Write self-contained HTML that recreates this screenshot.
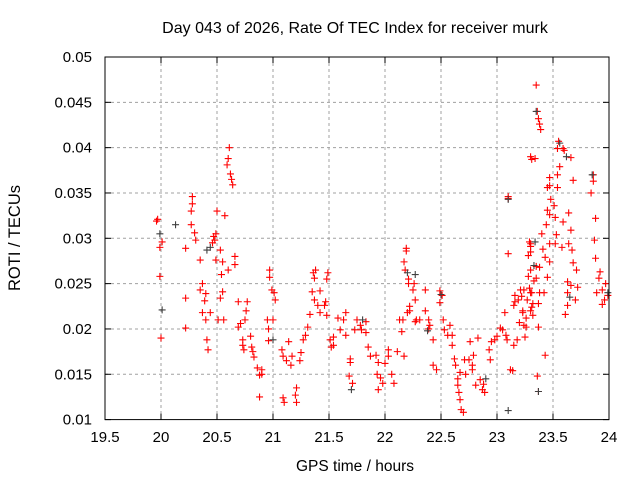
<!DOCTYPE html>
<html><head><meta charset="utf-8">
<style>
html,body{margin:0;padding:0;background:#fff;}
svg{display:block;font-family:"Liberation Sans",sans-serif;}
</style></head>
<body>
<svg id="chart" width="640" height="480" viewBox="0 0 640 480" xmlns="http://www.w3.org/2000/svg">
<rect x="0" y="0" width="640" height="480" fill="#fff"/>
<text x="355" y="33" text-anchor="middle" font-size="16" fill="#000">Day 043 of 2026, Rate Of TEC Index for receiver murk</text>
<text x="355" y="471" text-anchor="middle" font-size="15.5" fill="#000">GPS time / hours</text>
<text x="0" y="0" transform="translate(20,238) rotate(-90)" text-anchor="middle" font-size="16.5" fill="#000">ROTI / TECUs</text>
<g id="grid"></g>
<g id="ticks"></g>
<g id="series-red"></g>
<g id="series-dark"></g>
<rect x="105" y="57" width="504" height="362.6" fill="none" stroke="#000" stroke-width="1"/>
</svg>
<script>
const xTicks=[19.5,20,20.5,21,21.5,22,22.5,23,23.5,24];
const xTickLabels=["19.5","20","20.5","21","21.5","22","22.5","23","23.5","24"];
const yTicks=[0.01,0.015,0.02,0.025,0.03,0.035,0.04,0.045,0.05];
const yTickLabels=["0.01","0.015","0.02","0.025","0.03","0.035","0.04","0.045","0.05"];

const hours=[
19.96,19.97,19.99,20.01,19.99,20.0,20.22,20.22,20.22,20.28,20.28,20.27,20.27,20.3,20.31,
20.35,20.37,20.35,20.4,20.39,20.44,20.4,20.37,20.41,20.42,20.46,20.47,20.49,20.5,20.57,20.53,20.49,20.48,20.6,20.61,20.59,20.62,20.63,20.64,20.6,20.55,20.54,20.55,20.53,20.51,20.56,20.66,20.66,20.69,
20.71,20.75,20.73,20.73,20.74,20.8,20.81,20.82,20.83,20.86,20.88,20.88,20.9,20.9,20.69,20.76,20.77,20.97,20.97,20.99,21.01,21.02,20.96,20.95,21.0,20.96,
21.08,21.09,21.09,21.1,21.14,21.12,21.17,21.16,21.2,21.21,21.21,21.24,21.25,21.27,21.29,21.31,21.33,21.37,21.36,21.38,21.37,21.35,
21.42,21.42,21.4,21.46,21.47,21.48,21.51,21.52,21.54,21.54,21.49,21.48,21.58,21.6,21.63,21.65,21.65,21.69,21.69,21.68,21.71,21.73,21.75,21.78,21.79,21.83,21.83,21.85,21.87,21.92,21.94,21.93,21.96,21.94,21.98,22.0,22.03,22.03,
22.06,22.08,22.11,22.13,22.16,22.2,22.22,22.15,22.17,22.19,22.19,22.17,22.18,22.21,22.21,22.22,22.26,22.25,22.27,22.28,22.27,22.31,22.36,22.36,22.39,22.39,22.4,22.43,22.43,22.46,
22.49,22.51,22.49,22.53,22.52,22.56,22.58,22.6,22.6,22.62,22.63,22.65,22.65,22.66,22.67,22.68,22.7,22.67,22.71,22.72,22.75,22.76,22.78,22.78,22.79,22.83,22.81,22.85,22.87,22.89,22.88,22.93,22.94,22.95,
22.98,23.0,23.03,23.05,23.07,23.08,23.09,23.1,23.1,23.1,23.12,23.14,23.15,23.16,23.16,23.18,23.15,23.22,23.19,23.24,23.23,23.26,23.27,23.26,23.25,23.3,23.31,23.3,23.29,23.33,23.35,23.35,23.29,23.3,23.3,23.24,23.32,23.3,23.31,23.34,
23.35,23.36,23.37,23.38,23.39,23.55,23.54,23.59,23.6,23.66,23.56,23.54,23.47,23.47,23.45,23.54,23.68,23.86,23.86,23.84,23.88,23.87,23.88,23.92,23.91,23.97,23.94,23.89,23.99,23.96,23.94,
23.48,23.51,23.45,23.47,23.52,23.59,23.64,23.44,23.4,23.53,23.66,23.3,23.3,23.41,23.47,23.52,23.58,23.64,23.67,23.28,23.43,23.47,23.38,23.68,23.71,23.45,23.28,23.63,23.66,23.72,23.63,23.7,23.63,23.61,
23.21,23.31,23.38,23.42,23.32,23.37,23.23,23.2,23.37,23.43,23.36,23.37
];
const roti=[
.0319,.0321,.029,.0296,.0258,.0190,.0289,.0234,.0201,.0346,.0338,.033,.0315,.0306,.0298,
.0276,.025,.0243,.0239,.0231,.0218,.021,.0218,.0188,.0177,.0295,.0302,.0305,.033,.0325,.0287,.0276,.0298,.0388,.0400,.0381,.0371,.0365,.0359,.0265,.0274,.026,.0241,.0234,.021,.021,.028,.0271,.0202,
.0206,.021,.0188,.0182,.0177,.0192,.018,.0175,.0169,.0157,.0149,.0125,.015,.0155,.023,.022,.023,.0265,.0257,.0243,.024,.0232,.02,.021,.021,.0187,
.0177,.017,.0124,.0119,.0186,.0165,.017,.016,.0127,.0119,.0135,.0165,.0174,.0188,.0193,.0202,.0216,.0232,.0262,.0265,.0256,.0241,
.0242,.0218,.0226,.0226,.023,.0215,.0188,.018,.0182,.0191,.0262,.0255,.0212,.0199,.021,.0218,.0193,.0163,.0167,.0148,.014,.0199,.021,.0204,.0199,.0208,.0196,.018,.017,.0171,.0163,.015,.0146,.0133,.014,.0162,.017,.0177,
.015,.014,.0175,.021,.021,.0218,.022,.0197,.017,.0289,.0286,.0274,.0265,.025,.0255,.0225,.025,.0243,.0232,.021,.0208,.021,.0243,.022,.021,.02,.0204,.0188,.016,.0155,
.0242,.0237,.0229,.0199,.021,.0193,.0204,.0193,.0182,.0167,.016,.0145,.0138,.013,.0122,.0111,.0108,.0152,.0166,.015,.0166,.0186,.016,.0155,.0171,.019,.0138,.0144,.0133,.013,.0139,.0177,.0166,.0186,
.0188,.0192,.0201,.0199,.0218,.0193,.0188,.0344,.0346,.0283,.0155,.0154,.0226,.023,.0237,.0188,.0182,.0236,.0232,.0243,.0218,.0212,.0232,.0202,.0191,.022,.0224,.024,.0245,.0253,.0256,.0269,.0296,.0291,.0265,.0204,.0215,.039,.0387,.0388,
.0469,.044,.0432,.0426,.042,.0407,.0399,.0399,.0397,.0389,.0379,.037,.0367,.0358,.0356,.0356,.0364,.037,.0363,.035,.0322,.0298,.0278,.0263,.0256,.025,.0243,.024,.0237,.0232,.0227,
.0343,.0336,.0331,.0326,.0323,.0318,.0328,.0315,.0305,.0304,.0309,.0294,.0285,.0288,.0294,.0294,.029,.0294,.0287,.0281,.0279,.0274,.0268,.0273,.0265,.0257,.0258,.0252,.0248,.0246,.024,.0232,.0226,.0216,
.0243,.024,.024,.024,.0228,.0228,.022,.0207,.0202,.0171,.0148,.0131
];
const darkHours=[19.99,20.01,20.13,20.44,20.41,21.0,21.7,21.8,22.2,22.27,22.38,22.5,22.9,23.1,23.1,23.35,23.37,23.56,23.62,23.65,23.85,23.99,23.34,23.33];
const darkRoti=[.0305,.0221,.0315,.029,.0287,.0188,.0133,.021,.0262,.026,.0198,.0238,.0145,.011,.0343,.044,.0131,.0405,.039,.0235,.037,.024,.0296,.027];

const X0=105,X1=609,Y0=419.6,Y1=57;
function xs(h){return X0+(h-19.5)/(24-19.5)*(X1-X0);}
function ys(v){return Y0-(v-0.01)/(0.05-0.01)*(Y0-Y1);}
const NS="http://www.w3.org/2000/svg";
function mk(tag,attrs,parent){const e=document.createElementNS(NS,tag);for(const k in attrs)e.setAttribute(k,attrs[k]);parent.appendChild(e);return e;}
const grid=document.getElementById('grid'),ticks=document.getElementById('ticks');
xTicks.forEach((t,i)=>{
  const x=xs(t);
  if(i>0&&i<xTicks.length-1){
    const g=mk('line',{x1:x,y1:Y1,x2:x,y2:Y0,stroke:'#a0a0a0','stroke-dasharray':'3,3','stroke-width':1},grid);
    
    
  }
  const a=mk('line',{x1:x,y1:Y0,x2:x,y2:Y0-6,stroke:'#000'},ticks);
  
  
  const b=mk('line',{x1:x,y1:Y1,x2:x,y2:Y1+6,stroke:'#000'},ticks);
  
  
  const l=mk('text',{x:x,y:442,'text-anchor':'middle','font-size':15,fill:'#000'},ticks);
  l.textContent=xTickLabels[i];
  
  
});
yTicks.forEach((t,i)=>{
  const y=ys(t);
  if(i>0&&i<yTicks.length-1){
    const g=mk('line',{x1:X0,y1:y,x2:X1,y2:y,stroke:'#a0a0a0','stroke-dasharray':'3,3','stroke-width':1},grid);
    
    
  }
  const a=mk('line',{x1:X0,y1:y,x2:X0+6,y2:y,stroke:'#000'},ticks);
  
  
  const b=mk('line',{x1:X1,y1:y,x2:X1-6,y2:y,stroke:'#000'},ticks);
  
  
  const l=mk('text',{x:92,y:y+5,'text-anchor':'end','font-size':15,fill:'#000'},ticks);
  l.textContent=yTickLabels[i];
  
  
});
function plus(h,v,color,parent){
  const x=xs(h),y=ys(v);
  return mk('path',{d:`M${x-3.5},${y}H${x+3.5}M${x},${y-3.5}V${y+3.5}`,stroke:color,'stroke-width':1.1,fill:'none'},parent);
}
const red=document.getElementById('series-red');
const n=Math.min(hours.length,roti.length);
for(let i=0;i<n;i++){
  const p=plus(hours[i],roti[i],'#ff0000',red);
  
  
}
const dark=document.getElementById('series-dark');
for(let i=0;i<Math.min(darkHours.length,darkRoti.length);i++){
  const p=plus(darkHours[i],darkRoti[i],'#404040',dark);
  
  
}
</script>
</body></html>
